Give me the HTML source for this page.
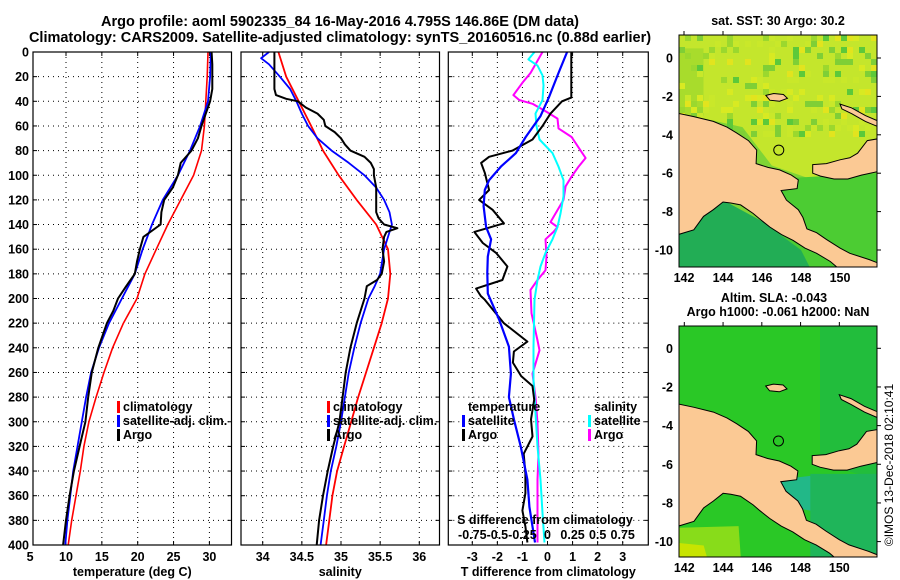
<!DOCTYPE html>
<html><head><meta charset="utf-8"><style>
html,body{margin:0;padding:0;background:#fff;width:900px;height:580px;overflow:hidden}
svg text{font-family:"Liberation Sans",Arial,sans-serif;font-weight:bold;fill:#000}
</style></head><body>
<svg id="fig" xmlns="http://www.w3.org/2000/svg" width="900" height="580" viewBox="0 0 900 580">
<text x="340" y="26" font-size="14.5" text-anchor="middle">Argo profile: aoml 5902335_84 16-May-2016 4.795S 146.86E (DM data)</text>
<text x="340" y="42" font-size="14.5" text-anchor="middle">Climatology: CARS2009. Satellite-adjusted climatology: synTS_20160516.nc (0.88d earlier)</text>
<g id="panels"></g>
<g id="maps"></g>
<text transform="translate(893,465) rotate(-90)" font-size="12" text-anchor="middle" style="font-weight:normal">©IMOS 13-Dec-2018 02:10:41</text>
</svg>
<script>
// ---------- data ----------
const depthT = [0,20,40,60,80,100,120,140,160,180,200,220,240,260,280,300,320,340,360,380,400];
const tempClim = [29.8,29.7,29.5,29.3,28.9,27.8,26.0,24.2,22.6,21.0,19.9,18.0,16.5,15.3,14.2,13.2,12.5,12.0,11.4,10.8,10.3];
const tempSat = [30.2,30.1,29.8,28.7,27.3,25.6,23.5,22.0,20.7,19.6,17.8,16.0,14.6,13.5,12.8,12.2,11.6,11.0,10.6,10.2,9.9];
const depthArgoT = [0,10,20,30,40,50,60,70,80,90,100,110,120,130,140,150,160,170,180,190,200,210,220,230,240,260,280,300,320,340,360,380,400];
const tempArgo = [30.3,30.4,30.4,30.4,30.1,29.5,28.9,28.4,27.5,26.0,25.6,24.9,23.7,23.3,23.2,20.8,20.3,19.9,19.6,18.4,17.25,16.6,15.7,15.1,14.5,13.6,13.1,12.7,11.9,11.1,10.5,10.0,9.6];
const depthS = [0,20,40,60,80,100,120,140,160,180,200,220,240,260,280,300,320,340,360,380,400];
const salClim = [34.2,34.3,34.46,34.62,34.77,34.97,35.2,35.45,35.6,35.63,35.6,35.52,35.42,35.32,35.22,35.13,35.04,34.95,34.89,34.85,34.81];
const depthSatS = [0,5,10,20,30,40,50,60,70,80,90,100,110,120,130,140,150,160,180,190,200,220,240,260,280,300,320,340,360,380,400];
const salSat = [34.08,33.98,34.08,34.22,34.35,34.43,34.5,34.58,34.7,34.88,35.1,35.3,35.45,35.55,35.62,35.65,35.6,35.55,35.5,35.43,35.35,35.25,35.17,35.1,35.05,35.0,34.94,34.87,34.82,34.78,34.74];
const depthArgoS = [0,10,20,30,35,38,40,45,50,55,60,65,70,75,80,85,90,95,100,110,120,130,135,140,143,146,150,160,170,180,185,190,200,220,240,260,280,300,320,340,360,380,400];
const salArgo = [34.15,34.15,34.15,34.15,34.17,34.3,34.45,34.55,34.7,34.78,34.8,34.92,35.0,35.05,35.12,35.3,35.38,35.42,35.42,35.45,35.45,35.45,35.48,35.55,35.72,35.58,35.55,35.53,35.55,35.52,35.46,35.33,35.3,35.2,35.12,35.06,35.02,34.98,34.9,34.83,34.77,34.72,34.69];
const depthDT = [0,37,40,50,60,71,80,85,90,98,112,120,128,139,146,155,163,174,185,192,198,201,220,235,243,252,263,271,282,298,312,326,342,358,372,385,398];
const dTArgo = [0.95,0.95,0.58,0.12,-0.2,-0.6,-1.4,-2.33,-2.65,-2.5,-2.33,-2.73,-2.19,-1.74,-2.92,-2.58,-2.05,-1.6,-1.8,-2.85,-2.66,-2.5,-1.74,-0.8,-1.34,-1.38,-1.05,-0.6,-0.53,-0.66,-0.6,-0.95,-0.88,-0.88,-1.0,-0.88,-0.8];
const depthDTs = [0,17,37,52,69,82,93,104,112,125,142,152,166,179,196,217,239,261,280,298,320,347,369,398];
const dTSat = [0.78,0.44,0.05,-0.28,-0.87,-1.26,-1.86,-2.33,-2.5,-2.55,-2.45,-2.25,-2.38,-2.4,-2.38,-1.93,-1.54,-1.46,-1.54,-1.34,-1.07,-0.8,-0.72,-0.5];
const depthDS = [0,17,25,35,39,42,49,54,62,69,80,86,93,101,109,120,131,138,142,146,152,166,177,185,193,212,234,242,261,280,301,326,347,374,398];
const dSArgo = [-0.05,-0.17,-0.25,-0.34,-0.28,-0.15,0,0.1,0.11,0.24,0.33,0.38,0.31,0.24,0.18,0.16,0.08,0.03,0.1,0.06,-0.02,-0.01,-0.02,-0.1,-0.17,-0.16,-0.1,-0.08,-0.15,-0.12,-0.1,-0.09,-0.1,-0.1,-0.1];
const depthDSs = [0,6,11,19,27,39,50,60,71,82,93,104,117,131,142,152,163,174,185,201,239,266,293,320,347,374,398];
const dSSat = [-0.13,-0.19,-0.1,-0.05,-0.04,-0.05,-0.12,-0.11,-0.08,0.05,0.11,0.16,0.16,0.13,0.1,0.05,-0.02,-0.07,-0.1,-0.13,-0.14,-0.14,-0.12,-0.1,-0.07,-0.05,-0.03];
const depthTicks = [0,20,40,60,80,100,120,140,160,180,200,220,240,260,280,300,320,340,360,380,400];
const tempTicks = [5,10,15,20,25,30];
const salTicks = [34,34.5,35,35.5,36];
const salTickLabels = ["34","34.5","35","35.5","36"];
const dTTicks = [-3,-2,-1,0,1,2,3];
const dSTickVals = [-0.75,-0.5,-0.25,0,0.25,0.5,0.75];
const dSTickLabels = ["-0.75","-0.5","-0.25","0","0.25","0.5","0.75"];

const NS='http://www.w3.org/2000/svg';
function mk(tag,attrs,parent){const e=document.createElementNS(NS,tag);for(const k in attrs)e.setAttribute(k,attrs[k]);parent.appendChild(e);return e;}
const Y0=52,Y1=545;
const yD=d=>Y0+(d/400)*(Y1-Y0);
const panelsG=document.getElementById('panels');
const panels=[
 {name:'temperature-panel',x0:33,x1:231.5,sx:v=>66+(v-10)*7.17,ticks:tempTicks,labels:tempTicks.map(String),title:'temperature (deg C)'},
 {name:'salinity-panel',x0:241,x1:439.5,sx:v=>262.7+(v-34)*78.3,ticks:salTicks,labels:salTickLabels,title:'salinity'},
 {name:'difference-panel',x0:448.3,x1:648.3,sx:v=>547.5+v*25.07,ticks:dTTicks,labels:dTTicks.map(String),title:'T difference from climatology'}
];
function line(g,xs,ds,sx,color,w,name){
  const pts=xs.map((v,i)=>sx(v).toFixed(1)+','+yD(ds[i]).toFixed(1)).join(' ');
  const p=mk('polyline',{points:pts,fill:'none',stroke:color,'stroke-width':w,'stroke-linejoin':'round'},g);
  
  
}
panels.forEach((P,pi)=>{
  const g=mk('g',{},panelsG);
  
  
  depthTicks.forEach(d=>{
    if(d>0&&d<400) mk('line',{x1:P.x0,x2:P.x1,y1:yD(d),y2:yD(d),stroke:'#000','stroke-width':1,'stroke-dasharray':'1,4'},g);
    mk('line',{x1:P.x0,x2:P.x0+4,y1:yD(d),y2:yD(d),stroke:'#000'},g);
    mk('line',{x1:P.x1-4,x2:P.x1,y1:yD(d),y2:yD(d),stroke:'#000'},g);
  });
  P.ticks.forEach((t,i)=>{
    const x=P.sx(t);
    if(x>P.x0+1&&x<P.x1-1){
      mk('line',{x1:x,x2:x,y1:Y0,y2:Y1,stroke:'#000','stroke-dasharray':'1,4'},g);
      mk('line',{x1:x,x2:x,y1:Y1-4,y2:Y1,stroke:'#000'},g);
      mk('line',{x1:x,x2:x,y1:Y0,y2:Y0+4,stroke:'#000'},g);
    }
    const tx=mk('text',{x:x,y:561,'font-size':12.5,'text-anchor':'middle'},g);
    tx.textContent=P.labels[i];
    
    
  });
  const at=mk('text',{x:(P.x0+P.x1)/2,y:576,'font-size':12.5,'text-anchor':'middle'},g);
  at.textContent=P.title;
  
  
  P.g=g;
});
depthTicks.forEach(d=>{
  const t=mk('text',{x:29,y:yD(d)+4.5,'font-size':12.5,'text-anchor':'end'},panelsG);
  t.textContent=String(d);
  
  
});
line(panels[0].g,tempClim,depthT,panels[0].sx,'#f00',1.6,'temp-climatology-line');
line(panels[0].g,tempSat,depthT,panels[0].sx,'#00f',1.8,'temp-satellite-line');
line(panels[0].g,tempArgo,depthArgoT,panels[0].sx,'#000',2,'temp-argo-line');
line(panels[1].g,salClim,depthS,panels[1].sx,'#f00',1.8,'sal-climatology-line');
line(panels[1].g,salSat,depthSatS,panels[1].sx,'#00f',1.8,'sal-satellite-line');
line(panels[1].g,salArgo,depthArgoS,panels[1].sx,'#000',2,'sal-argo-line');
const sxS=v=>547.5+v*4*25.07;
line(panels[2].g,dSArgo,depthDS,sxS,'#f0f',2,'sdiff-argo-line');
line(panels[2].g,dSSat,depthDSs,sxS,'#0ff',2,'sdiff-satellite-line');
line(panels[2].g,dTArgo,depthDT,panels[2].sx,'#000',2,'tdiff-argo-line');
line(panels[2].g,dTSat,depthDTs,panels[2].sx,'#00f',2.2,'tdiff-satellite-line');
panels.forEach(P=>{mk('rect',{x:P.x0,y:Y0,width:P.x1-P.x0,height:Y1-Y0,fill:'none',stroke:'#000','stroke-width':1.2},P.g);});
function legItem(g,x,y,color,label,name){
  if(color){mk('rect',{x:x,y:y-10,width:3,height:12,fill:color},g);}
  const t=mk('text',{x:x+(color?6:0),y:y,'font-size':12.5},g);t.textContent=label;
  
  
}
legItem(panels[0].g,117,411,'#f00','climatology','legend-climatology');
legItem(panels[0].g,117,425,'#00f','satellite-adj. clim.','legend-satellite');
legItem(panels[0].g,117,439,'#000','Argo','legend-argo');
legItem(panels[1].g,327,411,'#f00','climatology','legend-climatology');
legItem(panels[1].g,327,425,'#00f','satellite-adj. clim.','legend-satellite');
legItem(panels[1].g,327,439,'#000','Argo','legend-argo');
legItem(panels[2].g,468,411,null,'temperature','legend-temperature-title');
legItem(panels[2].g,462,425,'#00f','satellite','legend-t-satellite');
legItem(panels[2].g,462,439,'#000','Argo','legend-t-argo');
legItem(panels[2].g,594,411,null,'salinity','legend-salinity-title');
legItem(panels[2].g,588,425,'#0ff','satellite','legend-s-satellite');
legItem(panels[2].g,588,439,'#f0f','Argo','legend-s-argo');
{const t=mk('text',{x:545,y:524,'font-size':12.5,'text-anchor':'middle'},panels[2].g);t.textContent='S difference from climatology';


dSTickVals.forEach((v,i)=>{const l=mk('text',{x:sxS(v),y:539,'font-size':12.5,'text-anchor':'middle'},panels[2].g);l.textContent=dSTickLabels[i];

});}

// ---------- maps ----------
const mapsG=document.getElementById('maps');
const landMain=[[141.7,-2.88],[142.5,-3.05],[143.5,-3.3],[144.2,-3.6],[144.7,-3.9],[145.3,-4.3],[145.73,-4.79],[145.7,-5.5],[146.3,-5.7],[146.9,-5.83],[147.5,-6.1],[147.86,-6.35],[147.8,-6.8],[146.98,-6.9],[147.25,-7.4],[147.86,-7.9],[148.1,-8.3],[148.3,-8.9],[148.8,-9.1],[149.3,-9.45],[150.0,-9.9],[150.5,-10.17],[151.5,-10.5],[152,-10.7],[152,-11.2],[150.2,-11.2],[149.5,-10.6],[148.8,-10.17],[148.2,-9.9],[147.6,-9.5],[147.0,-9.2],[146.4,-8.8],[145.9,-8.4],[145.55,-8.1],[144.9,-7.65],[144.4,-7.55],[144.0,-7.5],[143.5,-7.9],[143.0,-8.25],[142.5,-8.95],[141.7,-9.2]];
const landNB=[[148.6,-5.55],[149.3,-5.5],[150.0,-5.3],[150.5,-5.2],[150.9,-4.96],[151.4,-4.3],[152,-4.2],[152,-5.9],[151.1,-6.1],[150.4,-6.3],[149.7,-6.3],[149.0,-6.15],[148.6,-6.0]];
const landNI=[[150.0,-2.4],[150.6,-2.6],[151.3,-3.0],[152,-3.3],[152,-3.6],[151.3,-3.3],[150.6,-2.9],[150.1,-2.65]];
const landManus=[[146.2,-1.95],[146.6,-1.85],[147.1,-1.9],[147.3,-2.1],[146.9,-2.25],[146.4,-2.2]];
function drawMap(cfg){
  const g=mk('g',{},mapsG);
  
  
  const X=lon=>cfg.x142+(lon-142)*cfg.sxp, Yl=lat=>cfg.y0-lat*cfg.syp;
  const clip=mk('clipPath',{id:cfg.name+'-clip'},g);
  mk('rect',{x:cfg.l,y:cfg.t,width:cfg.r-cfg.l,height:cfg.b-cfg.t},clip);
  const inner=mk('g',{'clip-path':'url(#'+cfg.name+'-clip)'},g);
  cfg.sea.forEach(s=>{
    const pts=s.p.map(q=>X(q[0]).toFixed(1)+','+Yl(q[1]).toFixed(1)).join(' ');
    mk('polygon',{points:pts,fill:s.c},inner);
  });
  if(cfg.texture){
    const cols=['#9bd82e','#d8ea22','#7fcf36','#c9e82a','#e2e41e','#5cc93a'];
    let s=7;
    for(let yy=cfg.t;yy<cfg.t+100;yy+=6){
      for(let xx=cfg.l;xx<cfg.r;xx+=6){
        s=(s*1103515245+12345)%2147483648;
        if((s>>8)%3===0){mk('rect',{x:xx,y:yy,width:6,height:6,fill:cols[(s>>12)%6]},inner);}
      }
    }
  }
  [landMain,landNB,landNI,landManus].forEach(L=>{
    const pts=L.map(q=>X(q[0]).toFixed(1)+','+Yl(q[1]).toFixed(1)).join(' ');
    const p=mk('polygon',{points:pts,fill:'#fbc994',stroke:'#000','stroke-width':1},inner);
    
    
  });
  mk('circle',{cx:X(146.86),cy:Yl(-4.795),r:5,fill:'none',stroke:'#000','stroke-width':1},inner);
  mk('rect',{x:cfg.l,y:cfg.t,width:cfg.r-cfg.l,height:cfg.b-cfg.t,fill:'none',stroke:'#000','stroke-width':1},g);
  [142,144,146,148,150].forEach(lon=>{
    mk('line',{x1:X(lon),x2:X(lon),y1:cfg.t-4,y2:cfg.t,stroke:'#000'},g);
    const t=mk('text',{x:X(lon),y:cfg.b+15,'font-size':12.5,'text-anchor':'middle'},g);t.textContent=String(lon);
    
    
  });
  [0,-2,-4,-6,-8,-10].forEach(lat=>{
    mk('line',{x1:cfg.r,x2:cfg.r+4,y1:Yl(lat),y2:Yl(lat),stroke:'#000'},g);
    const t=mk('text',{x:cfg.l-6,y:Yl(lat)+4.5,'font-size':12.5,'text-anchor':'end'},g);t.textContent=String(lat);
    
    
  });
  cfg.titles.forEach((s,i)=>{const t=mk('text',{x:s.x,y:s.y,'font-size':12.5,'text-anchor':'middle'},g);t.textContent=s.t;
    
    });
}
drawMap({name:'sst-map',l:679,r:877,t:35,b:267,x142:684,sxp:19.5,y0:58,syp:19.2,texture:true,
  titles:[{x:778,y:25,t:'sat. SST: 30 Argo: 30.2'}],
  sea:[{c:'#c4e62c',p:[[141,2],[153,2],[153,-12],[141,-12]]},
       {c:'#a8dc2c',p:[[141,0.5],[143,0.5],[143,-3],[141,-3]]},
       {c:'#7fd436',p:[[141,-2.7],[145,-3.6],[146.5,-5.6],[148.5,-6.3],[152,-5.5],[152,-12],[141,-12]]},
       {c:'#4ccc33',p:[[146.5,-6.3],[152,-6],[152,-12],[146.5,-12]]},
       {c:'#22ad55',p:[[141,-8.8],[144,-7.4],[146,-8.5],[148,-10],[149,-12],[141,-12]]}]});
drawMap({name:'sla-map',l:679,r:877,t:326,b:557,x142:684.3,sxp:19.38,y0:348.3,syp:19.33,
  titles:[{x:774,y:302,t:'Altim. SLA: -0.043'},{x:778,y:316,t:'Argo h1000: -0.061 h2000: NaN'}],
  sea:[{c:'#2ac826',p:[[141,2],[153,2],[153,-12],[141,-12]]},
       {c:'#22bd3c',p:[[149,2],[153,2],[153,-7],[149,-6]]},
       {c:'#22b888',p:[[146.8,-6.8],[148.5,-6.6],[149,-8.5],[147.5,-8.2]]},
       {c:'#1fb55a',p:[[148.5,-6.5],[152,-6.5],[152,-11],[148.5,-11]]},
       {c:'#88dc1a',p:[[141,-9.3],[144.8,-9.2],[145,-12],[141,-12]]},
       {c:'#c8e400',p:[[141,-10],[143,-10.2],[143.5,-12],[141,-12]]}]});
</script>
</body></html>
